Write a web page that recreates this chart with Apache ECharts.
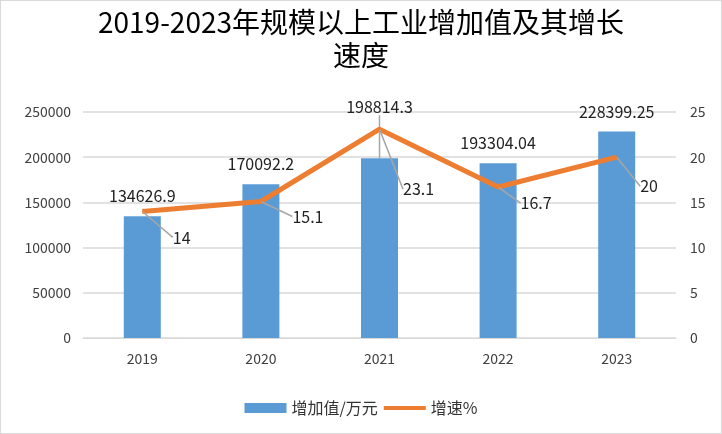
<!DOCTYPE html>
<html>
<head>
<meta charset="utf-8">
<script src="https://cdn.jsdelivr.net/npm/echarts@6/dist/echarts.min.js"></script>
<style>
  html, body { margin: 0; padding: 0; background: #fff; }
  #chart { width: 720px; height: 432px; border: 1px solid #d9d9d9; }
</style>
</head>
<body>
<div id="chart"></div>
<script>
var years = ['2019', '2020', '2021', '2022', '2023'];
var addedValue = [134626.9, 170092.2, 198814.3, 193304.04, 228399.25];
var growth = [14, 15.1, 23.1, 16.7, 20];
var leftTicks = [0, 250000, 50000];
var rightTicks = [0, 25, 5];

// 增速标签偏移（右下方）
var growthOffset = [[22, 26], [23, 15], [15, 60], [14, 16], [15, 29]];

// 只有2021的柱标签被挪到上方，需要引导线
var barData = addedValue.map(function (v, i) {
  return i === 2 ? { value: v, labelLine: { show: true } } : v;
});

var chart = echarts.init(document.getElementById('chart'));
var option = {
  textStyle: { fontFamily: 'Noto Sans CJK SC' },
  title: {
    text: '2019-2023年规模以上工业增加值及其增长\n速度',
    left: 'center',
    top: 0,
    textStyle: { fontSize: 28, fontWeight: 'normal', color: '#000', lineHeight: 33 }
  },
  legend: {
    bottom: 12,
    itemGap: 4,
    itemWidth: 42,
    itemHeight: 10,
    textStyle: { fontSize: 16, color: '#333' },
    data: [
      { name: '增加值/万元', icon: 'rect' },
      { name: '增速%', itemStyle: { opacity: 0 }, lineStyle: { width: 4 } }
    ]
  },
  grid: { left: 82, right: 45, top: 111, bottom: 95 },
  xAxis: {
    type: 'category',
    data: years,
    axisTick: { show: false },
    axisLine: { lineStyle: { color: '#d9d9d9' } },
    axisLabel: { fontSize: 14, color: '#404040', margin: 14 }
  },
  yAxis: [{
    type: 'value',
    min: leftTicks[0], max: leftTicks[1], interval: leftTicks[2],
    axisLabel: { fontSize: 14, color: '#404040', margin: 12, formatter: function (v) { return String(v); } },
    splitLine: { lineStyle: { color: '#d9d9d9', width: 1.5 } }
  }, {
    type: 'value',
    min: rightTicks[0], max: rightTicks[1], interval: rightTicks[2],
    axisLabel: { fontSize: 14, color: '#404040', margin: 14 },
    splitLine: { show: false }
  }],
  series: [{
    name: '增加值/万元',
    type: 'bar',
    data: barData,
    barWidth: 37,
    itemStyle: { color: '#5b9bd5' },
    label: { show: true, position: 'top', distance: 12, fontSize: 16, color: '#222' },
    labelLine: { show: false, lineStyle: { color: '#a6a6a6', width: 1.5 } },
    labelLayout: function (p) {
      if (p.dataIndex === 2) return { dy: -31 };
      return {};
    }
  }, {
    name: '增速%',
    type: 'line',
    yAxisIndex: 1,
    data: growth,
    symbol: 'circle',
    symbolSize: 1,
    showSymbol: true,
    lineStyle: { color: '#ed7d31', width: 5 },
    itemStyle: { color: '#ed7d31' },
    label: { show: true, position: 'right', distance: 8, fontSize: 16, color: '#222' },
    labelLine: { show: true, lineStyle: { color: '#a6a6a6', width: 1.5 } },
    labelLayout: function (p) {
      var o = growthOffset[p.dataIndex];
      return { dx: o[0], dy: o[1] };
    },
    z: 3
  }]
};
chart.setOption(option);
</script>
</body>
</html>
